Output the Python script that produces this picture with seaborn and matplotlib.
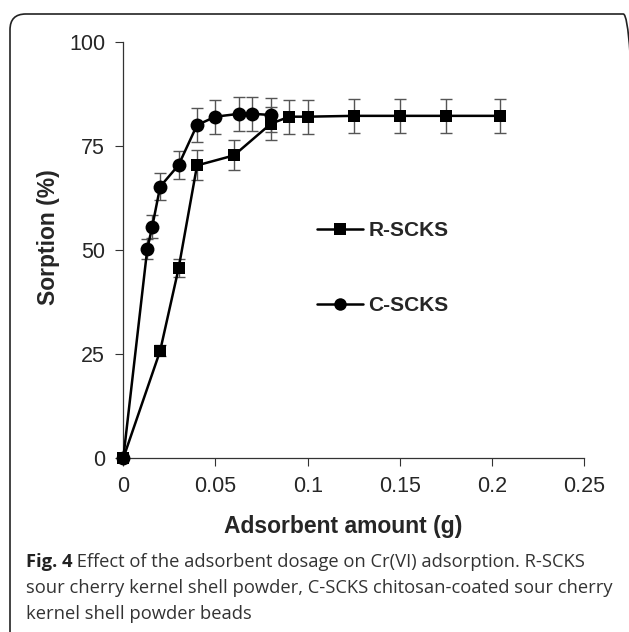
import matplotlib
matplotlib.use('Agg')
import matplotlib.pyplot as plt
from matplotlib.patches import FancyBboxPatch
import pandas as pd
import seaborn as sns

# values
r_dose = [0.0, 0.02, 0.03, 0.04, 0.06, 0.08, 0.09, 0.10, 0.125, 0.15, 0.175, 0.204]
r_sorp = [0.0, 25.8, 45.6, 70.3, 72.7, 80.3, 82.0, 82.0, 82.2, 82.2, 82.2, 82.2]
r_err = [0.0, 1.3, 2.2, 3.6, 3.6, 4.0, 4.1, 4.1, 4.1, 4.1, 4.1, 4.1]

c_dose = [0.0, 0.013, 0.0157, 0.02, 0.03, 0.04, 0.05, 0.063, 0.07, 0.08]
c_sorp = [0.0, 50.2, 55.6, 65.2, 70.4, 80.0, 82.0, 82.7, 82.7, 82.4]
c_err = [0.0, 2.4, 2.8, 3.2, 3.4, 4.0, 4.1, 4.1, 4.1, 4.1]

series_names = ["R-SCKS", "C-SCKS"]
x_ticks = [0, 0.05, 0.1, 0.15, 0.2, 0.25]
x_tick_labels = ["0", "0.05", "0.1", "0.15", "0.2", "0.25"]
y_ticks = [0, 25, 50, 75, 100]

caption_bold = "Fig. 4"
caption_lines = [
    " Effect of the adsorbent dosage on Cr(VI) adsorption. R-SCKS",
    "sour cherry kernel shell powder, C-SCKS chitosan-coated sour cherry",
    "kernel shell powder beads",
]

df = pd.concat([
    pd.DataFrame({"dose": r_dose, "sorption": r_sorp, "err": r_err, "sample": series_names[0]}),
    pd.DataFrame({"dose": c_dose, "sorption": c_sorp, "err": c_err, "sample": series_names[1]}),
], ignore_index=True)

sns.set_theme(style="ticks")
plt.rcParams['font.family'] = ['Liberation Sans', 'DejaVu Sans']

fig = plt.figure(figsize=(6.29, 6.32), dpi=100)
ax = fig.add_axes([0.196, 0.275, 0.733, 0.659])

# error bars first, underneath the markers
for name in series_names:
    sub = df[df["sample"] == name]
    ax.errorbar(sub["dose"], sub["sorption"], yerr=sub["err"], fmt='none',
                ecolor='#555555', elinewidth=1.0, capsize=4, capthick=1.0, zorder=2)

sns.lineplot(
    data=df, x="dose", y="sorption", hue="sample", style="sample",
    hue_order=series_names, style_order=series_names,
    palette=["black", "black"], markers={"R-SCKS": "s", "C-SCKS": "o"},
    dashes=False, markersize=10, markeredgewidth=0, linewidth=1.8,
    sort=False, errorbar=None, ax=ax, zorder=3
)
# squares a touch smaller than the circles; let the origin points sit on the axes
for ln in ax.lines:
    ln.set_clip_on(False)
    if ln.get_marker() == 's':
        ln.set_markersize(9)

ax.set_xlim(0, 0.25)
ax.set_ylim(0, 100)
ax.set_xticks(x_ticks)
ax.set_xticklabels(x_tick_labels)
ax.set_yticks(y_ticks)
ax.tick_params(axis='both', direction='out', length=6, width=0.8, color='#333333',
               labelsize=15.5, pad=7)
for side in ['left', 'bottom']:
    ax.spines[side].set_color('#333333')
    ax.spines[side].set_linewidth(0.9)
sns.despine(ax=ax)
ax.set_xlabel("Adsorbent amount (g)", fontsize=16.5, fontweight='bold')
ax.set_ylabel("Sorption (%)", fontsize=16.5, fontweight='bold')
ax.xaxis.set_label_coords(0.476, -0.137)
ax.yaxis.set_label_coords(-0.138, 0.53)

leg = ax.legend(loc='upper left', bbox_to_anchor=(0.38, 0.615), frameon=False,
                labelspacing=2.7, handlelength=2.2, handletextpad=0.25,
                prop={'weight': 'bold', 'size': 15})
for h in leg.legend_handles:
    h.set_markersize(9)

# rounded frame around the whole figure
frame = FancyBboxPatch((10 / 629, -0.05), 1.0, (632 - 14) / 632 + 0.05,
                       boxstyle="round,pad=0,rounding_size=0.025",
                       transform=fig.transFigure, fill=False,
                       edgecolor='#222222', linewidth=1.2, clip_on=False)
fig.patches.append(frame)

# caption
cap_font = ['Open Sans', 'DejaVu Sans']
cap_size = 13.2
y0 = 1 - 562 / 632
x0 = 26 / 629
t = fig.text(x0, y0, caption_bold, fontsize=cap_size, fontweight='bold',
             family=cap_font, va='center', color='#222222')
fig.canvas.draw()
bb = t.get_window_extent(fig.canvas.get_renderer())
fig.text(bb.x1 / fig.bbox.width, y0, caption_lines[0], fontsize=cap_size,
         family=cap_font, va='center', color='#333333')
for i, line in enumerate(caption_lines[1:], start=1):
    fig.text(x0, y0 - i * 26 / 632, line, fontsize=cap_size, family=cap_font,
             va='center', color='#333333')

plt.savefig("out.png", dpi=100)
plt.close()
